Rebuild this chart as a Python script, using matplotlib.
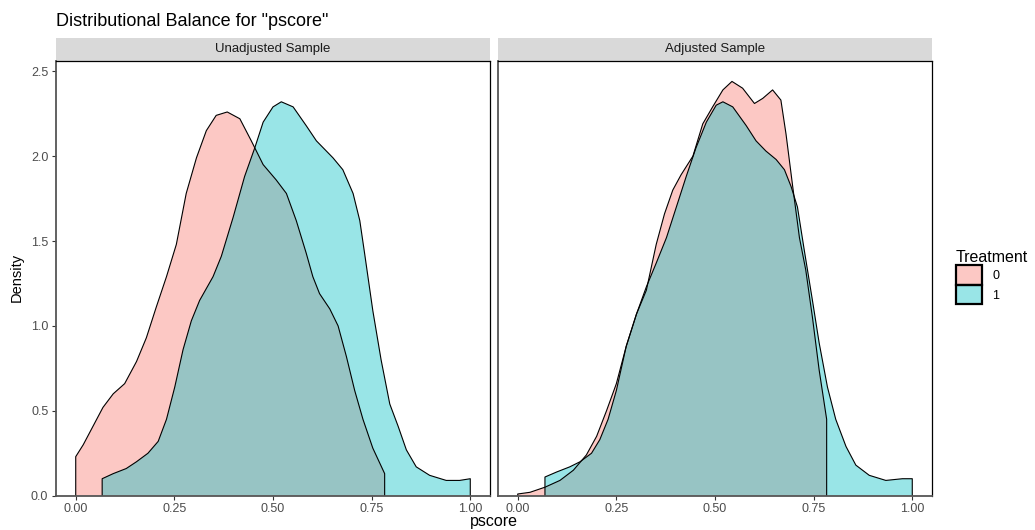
import matplotlib.pyplot as plt
from matplotlib.patches import Rectangle, Patch
from matplotlib.colors import to_rgba

plt.rcParams['font.family'] = ['Liberation Sans', 'DejaVu Sans']

# density curves: (pscore, density)
unadj_x0 = [0.0, 0.019, 0.044, 0.069, 0.095, 0.124, 0.154, 0.179, 0.204, 0.230, 0.255, 0.280,
            0.306, 0.331, 0.356, 0.384, 0.416, 0.445, 0.475, 0.508, 0.534, 0.559, 0.584, 0.601,
            0.618, 0.644, 0.665, 0.686, 0.707, 0.728, 0.753, 0.783]
unadj_y0 = [0.23, 0.30, 0.41, 0.52, 0.60, 0.66, 0.79, 0.93, 1.11, 1.29, 1.48, 1.78,
            1.99, 2.15, 2.24, 2.26, 2.22, 2.09, 1.95, 1.86, 1.78, 1.62, 1.43, 1.29,
            1.19, 1.10, 1.00, 0.82, 0.62, 0.45, 0.28, 0.13]

unadj_x1 = [0.067, 0.095, 0.128, 0.154, 0.183, 0.209, 0.230, 0.251, 0.272, 0.293, 0.314, 0.348,
            0.369, 0.399, 0.428, 0.454, 0.475, 0.500, 0.521, 0.551, 0.584, 0.610, 0.652, 0.677,
            0.703, 0.720, 0.732, 0.753, 0.774, 0.796, 0.817, 0.838, 0.863, 0.897, 0.939, 0.973, 1.0]
unadj_y1 = [0.10, 0.13, 0.16, 0.20, 0.25, 0.32, 0.45, 0.64, 0.86, 1.03, 1.15, 1.29,
            1.41, 1.64, 1.88, 2.05, 2.20, 2.29, 2.32, 2.29, 2.18, 2.09, 1.99, 1.92,
            1.78, 1.62, 1.43, 1.09, 0.80, 0.54, 0.41, 0.27, 0.17, 0.12, 0.09, 0.09, 0.10]

adj_x0 = [0.0, 0.031, 0.069, 0.107, 0.141, 0.174, 0.200, 0.225, 0.250, 0.275, 0.301, 0.326,
          0.351, 0.372, 0.393, 0.414, 0.444, 0.469, 0.494, 0.520, 0.543, 0.570, 0.600, 0.621,
          0.646, 0.667, 0.680, 0.697, 0.714, 0.730, 0.747, 0.764, 0.783]
adj_y0 = [0.01, 0.02, 0.05, 0.09, 0.15, 0.24, 0.35, 0.50, 0.66, 0.88, 1.07, 1.21,
          1.48, 1.66, 1.80, 1.89, 2.00, 2.19, 2.29, 2.39, 2.44, 2.40, 2.31, 2.34,
          2.39, 2.33, 2.13, 1.82, 1.52, 1.33, 1.05, 0.74, 0.45]

adj_x1 = [0.069, 0.099, 0.132, 0.158, 0.187, 0.208, 0.229, 0.250, 0.275, 0.301, 0.326, 0.351,
          0.377, 0.402, 0.427, 0.452, 0.478, 0.503, 0.520, 0.545, 0.579, 0.604, 0.629, 0.655,
          0.676, 0.693, 0.709, 0.726, 0.747, 0.764, 0.785, 0.806, 0.832, 0.857, 0.891, 0.933,
          0.975, 1.0]
adj_y1 = [0.11, 0.14, 0.17, 0.20, 0.25, 0.33, 0.45, 0.62, 0.88, 1.07, 1.23, 1.37,
          1.52, 1.70, 1.88, 2.05, 2.20, 2.30, 2.32, 2.29, 2.18, 2.09, 2.03, 1.98,
          1.92, 1.82, 1.70, 1.45, 1.15, 0.90, 0.64, 0.45, 0.29, 0.18, 0.12, 0.09,
          0.10, 0.10]

panels = ['Unadjusted Sample', 'Adjusted Sample']
treatments = ['0', '1']
colors = ['#F8766D', '#00BFC4']
x_ticks = [0.0, 0.25, 0.5, 0.75, 1.0]
x_labels = ['0.00', '0.25', '0.50', '0.75', '1.00']
y_ticks = [0.0, 0.5, 1.0, 1.5, 2.0, 2.5]

curves = [[(unadj_x0, unadj_y0), (unadj_x1, unadj_y1)],
          [(adj_x0, adj_y0), (adj_x1, adj_y1)]]

fig = plt.figure(figsize=(10.35, 5.3), dpi=100)
W, H = 1035, 530
lefts = [56, 498]
pw, ptop, pbot = 434, 60.7, 495.7

ymax = 2.44 * 1.05
for i, name in enumerate(panels):
    ax = fig.add_axes([lefts[i] / W, 1 - pbot / H, pw / W, (pbot - ptop) / H])
    for (xs, ys), c in zip(curves[i], colors):
        px = [xs[0]] + xs + [xs[-1]]
        py = [0] + ys + [0]
        ax.fill(px, py, facecolor=c, alpha=0.4, edgecolor='none')
        ax.plot(px, py, color='black', lw=0.8)
    ax.set_xlim(-0.05, 1.05)
    ax.set_ylim(0, ymax)
    ax.set_xticks(x_ticks)
    ax.set_xticklabels(x_labels)
    ax.set_yticks(y_ticks)
    ax.tick_params(labelsize=9, labelcolor='#4D4D4D', color='#333333', length=3, width=0.8,
                   pad=2.5)
    if i == 0:
        ax.set_yticklabels([f'{v:.1f}' for v in y_ticks])
    else:
        ax.tick_params(axis='y', length=0, labelleft=False)
    for side, s in ax.spines.items():
        if side in ('left', 'bottom'):
            s.set_color('#555555')
            s.set_linewidth(1.3)
        else:
            s.set_color('black')
            s.set_linewidth(0.9)
    # facet strip
    sh = 23 / (pbot - ptop)
    ax.add_patch(Rectangle((0, 1), 1, sh, transform=ax.transAxes, facecolor='#D9D9D9',
                           edgecolor='none', clip_on=False))
    ax.text(0.5, 1 + sh / 2, name, transform=ax.transAxes, ha='center', va='center',
            fontsize=9.5, color='#1A1A1A')

fig.text(56 / W, 1 - 21 / H, 'Distributional Balance for "pscore"', fontsize=13,
         ha='left', va='center')
fig.text(17 / W, 1 - 277 / H, 'Density', rotation=90, fontsize=10.5, ha='center', va='center')
fig.text(494 / W, 1 - 529 / H, 'pscore', fontsize=11.5, ha='center', va='bottom')

handles = [Patch(facecolor=to_rgba(c, 0.4), edgecolor='black', lw=1.6) for c in colors]
fig.legend(handles, treatments, title='Treatment', loc='upper left',
           bbox_to_anchor=(951 / W, 1 - 245 / H), frameon=False, fontsize=9,
           title_fontsize=11.5, handlelength=2.1, handleheight=2.05, handletextpad=0.8,
           labelspacing=0.0, alignment='left', borderaxespad=0.0)

fig.savefig('out.png', dpi=100)
